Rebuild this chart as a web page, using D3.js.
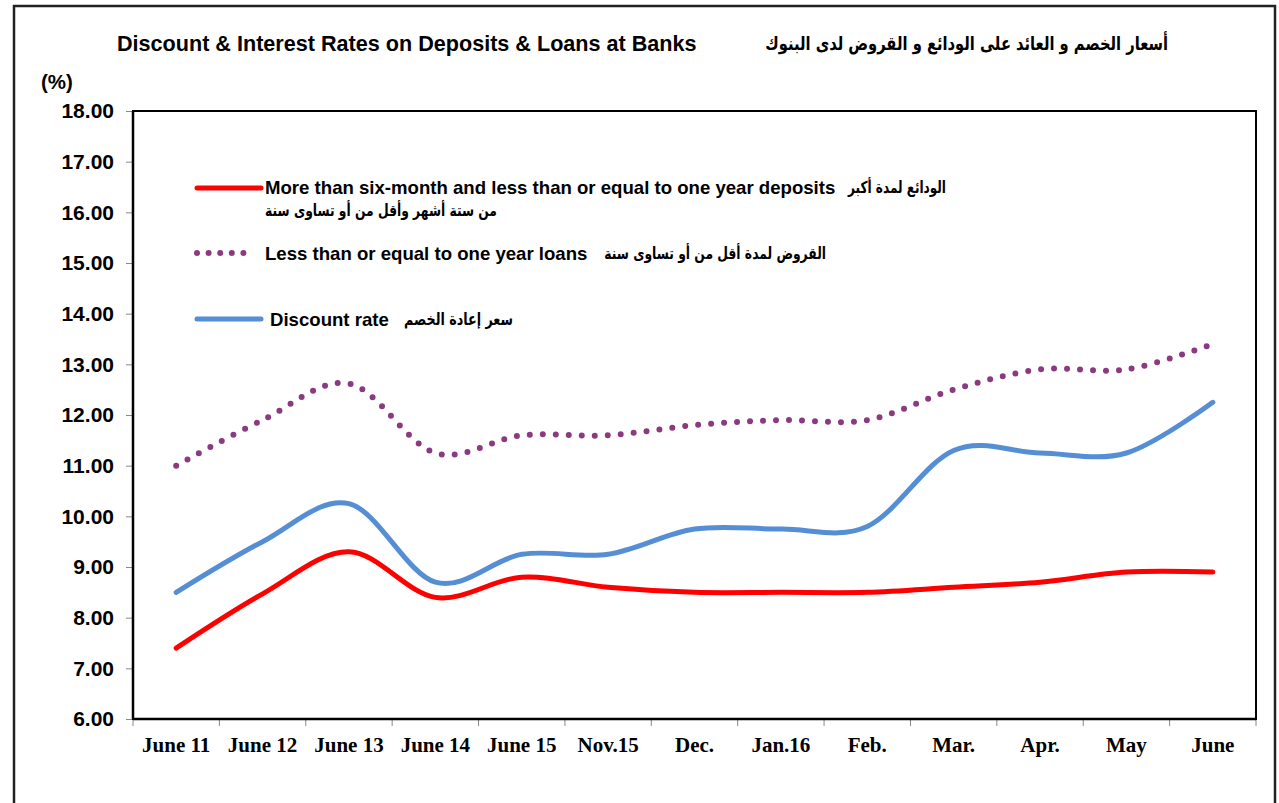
<!DOCTYPE html>
<html>
<head>
<meta charset="utf-8">
<script src="https://cdn.jsdelivr.net/npm/d3@7"></script>
<style>
  body { margin: 0; background: #fff; }
  svg { display: block; }
</style>
</head>
<body>
<svg id="chart" width="1279" height="803"></svg>
<script>
// data
const categories = ["June 11", "June 12", "June 13", "June 14", "June 15", "Nov.15", "Dec.",
  "Jan.16", "Feb.", "Mar.", "Apr.", "May", "June"];
const deposits = [7.4, 8.47, 9.3, 8.4, 8.8, 8.6, 8.5, 8.5, 8.5, 8.6, 8.7, 8.9, 8.9];
const loans = [11.0, 11.9, 12.62, 11.25, 11.6, 11.6, 11.8, 11.9, 11.9, 12.5, 12.9, 12.9, 13.4];
const discount = [8.5, 9.5, 10.25, 8.7, 9.25, 9.25, 9.75, 9.75, 9.8, 11.3, 11.25, 11.25, 12.25];
const yTicks = [6, 7, 8, 9, 10, 11, 12, 13, 14, 15, 16, 17, 18];

const titleEn = "Discount & Interest Rates on Deposits & Loans at Banks";
const titleAr = "أسعار الخصم و العائد على الودائع و القروض لدى البنوك";

const sans = "Arial, 'Liberation Sans', sans-serif";
const arab = "'DejaVu Sans', Arial, sans-serif";
const serif = "'Times New Roman', 'Liberation Serif', serif";

const svg = d3.select("#chart");

// plot area
const pLeft = 133, pRight = 1256, pTop = 111, pBottom = 719;

const x = d3.scaleBand().domain(categories).range([pLeft, pRight]);
const y = d3.scaleLinear().domain([6, 18]).range([pBottom, pTop]);

// outer frame (runs off the bottom of the picture)
svg.append("rect")
  .attr("x", 14).attr("y", 6)
  .attr("width", 1261).attr("height", 900)
  .attr("fill", "none").attr("stroke", "#222").attr("stroke-width", 2.5);

// squeeze an arabic string (anchored at its right end) to a given width
function fitWidth(sel, target) {
  const w = sel.node().getComputedTextLength();
  const ax = +sel.attr("x");
  const s = target / w;
  sel.attr("transform", `translate(${ax},0) scale(${s},1) translate(${-ax},0)`);
}

// titles
svg.append("text")
  .attr("x", 117).attr("y", 51)
  .attr("font-family", sans).attr("font-size", 21.6).attr("font-weight", "bold")
  .text(titleEn);

const tAr = svg.append("text")
  .attr("x", 1168).attr("y", 50)
  .attr("text-anchor", "end")
  .attr("font-family", arab).attr("font-size", 19).attr("font-weight", "bold")
  .text(titleAr);
fitWidth(tAr, 403);

svg.append("text")
  .attr("x", 41).attr("y", 89)
  .attr("font-family", sans).attr("font-size", 20.5).attr("font-weight", "bold")
  .text("(%)");

// y axis
const yAxis = svg.append("g")
  .attr("transform", `translate(${pLeft},0)`)
  .call(d3.axisLeft(y).tickValues(yTicks).tickFormat(d3.format(".2f")).tickSize(7).tickPadding(12));
yAxis.select(".domain").remove();
yAxis.selectAll("line").attr("stroke", "#888");
yAxis.selectAll("text")
  .attr("font-family", sans).attr("font-size", 21).attr("font-weight", "bold").attr("fill", "#000");

// x axis: ticks sit on the band edges
const edges = categories.map(d => x(d)).concat([pRight]);
svg.append("g").selectAll("line")
  .data(edges)
  .join("line")
  .attr("x1", d => d).attr("x2", d => d)
  .attr("y1", pBottom).attr("y2", pBottom + 7)
  .attr("stroke", "#888");

svg.append("g").selectAll("text")
  .data(categories)
  .join("text")
  .attr("x", d => x(d) + x.bandwidth() / 2)
  .attr("y", 752)
  .attr("text-anchor", "middle")
  .attr("font-family", serif).attr("font-size", 21).attr("font-weight", "bold")
  .text(d => d);

// plot border
svg.append("rect")
  .attr("x", pLeft).attr("y", pTop)
  .attr("width", pRight - pLeft).attr("height", pBottom - pTop)
  .attr("fill", "none").attr("stroke", "#000").attr("stroke-width", 2);
svg.append("line")
  .attr("x1", pLeft).attr("x2", pLeft).attr("y1", pTop).attr("y2", pBottom)
  .attr("stroke", "#000").attr("stroke-width", 2.5);
svg.append("line")
  .attr("x1", pLeft).attr("x2", pRight).attr("y1", pBottom).attr("y2", pBottom)
  .attr("stroke", "#000").attr("stroke-width", 2.5);

// lines
const line = d3.line()
  .x((d, i) => x(categories[i]) + x.bandwidth() / 2)
  .y(d => y(d))
  .curve(d3.curveCatmullRom.alpha(0));

svg.append("path")
  .datum(loans)
  .attr("d", line)
  .attr("fill", "none")
  .attr("stroke", "#8B3A7F")
  .attr("stroke-width", 6)
  .attr("stroke-linecap", "round")
  .attr("stroke-dasharray", "0 13");

svg.append("path")
  .datum(discount)
  .attr("d", line)
  .attr("fill", "none")
  .attr("stroke", "#558ED5")
  .attr("stroke-width", 5)
  .attr("stroke-linecap", "round");

svg.append("path")
  .datum(deposits)
  .attr("d", line)
  .attr("fill", "none")
  .attr("stroke", "#FF0000")
  .attr("stroke-width", 5)
  .attr("stroke-linecap", "round");

// legend
const lg = svg.append("g");

lg.append("line")
  .attr("x1", 197).attr("x2", 261).attr("y1", 188).attr("y2", 188)
  .attr("stroke", "#FF0000").attr("stroke-width", 5).attr("stroke-linecap", "round");
lg.append("text")
  .attr("x", 265).attr("y", 194)
  .attr("font-family", sans).attr("font-size", 18.6).attr("font-weight", "bold")
  .text("More than six-month and less than or equal to one year deposits");
const a1 = lg.append("text")
  .attr("x", 946).attr("y", 193)
  .attr("text-anchor", "end")
  .attr("font-family", arab).attr("font-size", 16.5).attr("font-weight", "bold")
  .text("الودائع لمدة أكبر");
fitWidth(a1, 98);
const a1b = lg.append("text")
  .attr("x", 497).attr("y", 216)
  .attr("text-anchor", "end")
  .attr("font-family", arab).attr("font-size", 16.5).attr("font-weight", "bold")
  .text("من ستة أشهر وأقل من أو تساوى سنة");
fitWidth(a1b, 232);

lg.append("line")
  .attr("x1", 197).attr("x2", 255).attr("y1", 253).attr("y2", 253)
  .attr("stroke", "#8B3A7F").attr("stroke-width", 6).attr("stroke-linecap", "round")
  .attr("stroke-dasharray", "0 11.6");
lg.append("text")
  .attr("x", 265).attr("y", 260)
  .attr("font-family", sans).attr("font-size", 18.6).attr("font-weight", "bold")
  .text("Less than or equal to one year loans");
const a2 = lg.append("text")
  .attr("x", 826).attr("y", 259)
  .attr("text-anchor", "end")
  .attr("font-family", arab).attr("font-size", 16.5).attr("font-weight", "bold")
  .text("القروض لمدة أقل من أو تساوى سنة");
fitWidth(a2, 222);

lg.append("line")
  .attr("x1", 197).attr("x2", 261).attr("y1", 319).attr("y2", 319)
  .attr("stroke", "#558ED5").attr("stroke-width", 5).attr("stroke-linecap", "round");
lg.append("text")
  .attr("x", 270).attr("y", 326)
  .attr("font-family", sans).attr("font-size", 18.6).attr("font-weight", "bold")
  .text("Discount rate");
const a3 = lg.append("text")
  .attr("x", 513).attr("y", 325)
  .attr("text-anchor", "end")
  .attr("font-family", arab).attr("font-size", 16.5).attr("font-weight", "bold")
  .text("سعر إعادة الخصم");
fitWidth(a3, 109);
</script>
</body>
</html>
